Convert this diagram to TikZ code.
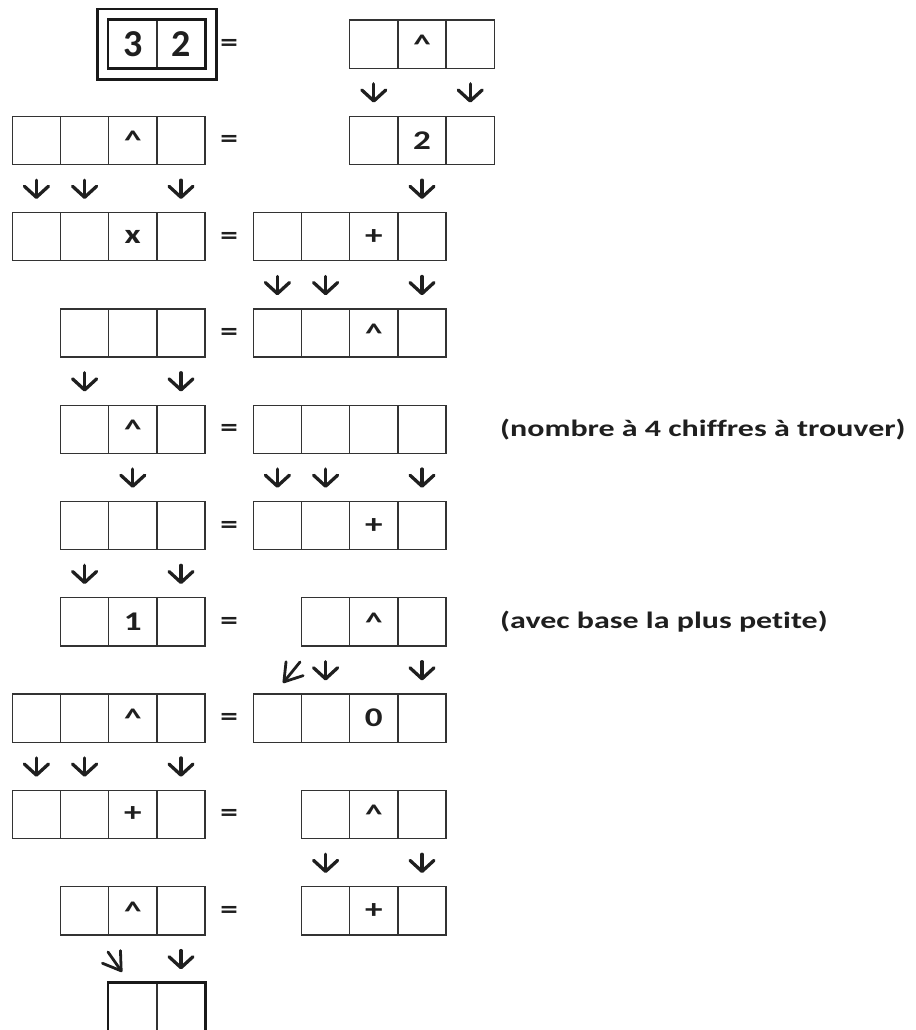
\documentclass[tikz,border=0pt]{standalone}
\usepackage{fontspec}
\setmainfont{Carlito}[Ligatures=CommonOff]
\newfontfamily\cellfont{Carlito}[FakeStretch=1.3, Ligatures=CommonOff]
\newfontfamily\notefont{Carlito}[FakeStretch=1.36, Ligatures=CommonOff]
\usetikzlibrary{arrows.meta,fit,calc}
\newcommand\pw{\raisebox{-0.2em}{\textasciicircum}}
\newcommand\cellrow[5][]{\foreach \lab [count=\n from 0] in {#5}{\node[cell,#1] (#2c\n) at ({12.3+48.2*(#4+\n+0.5)},{44.1+96.3*#3}) {\lab};}}
\begin{document}
\begin{tikzpicture}[x=1pt,y=-1pt,
  cell/.style={draw=black!80, line width=1.3pt, minimum width=48.2pt, minimum height=48.2pt, inner sep=0pt, font=\cellfont\fontsize{27}{27}\selectfont\bfseries, text=black!88},
  big/.style={font=\fontsize{38}{38}\selectfont\bfseries},
  eq/.style={inner sep=0pt, font=\cellfont\fontsize{27}{27}\selectfont\bfseries, text=black!88},
  note/.style={inner sep=0pt, anchor=west, font=\notefont\fontsize{23.5}{23.5}\selectfont\bfseries, text=black!88},
  frame/.style={draw=black!90, line width=2.8pt, inner sep=0pt},
  arr/.style={draw=black!88, line width=3.3pt, line cap=round, -{Straight Barb[length=11pt,width=24pt,round]}, shorten <=15pt, shorten >=13pt},
  darr/.style={draw=black!88, line width=2.8pt, line cap=round, -{Straight Barb[length=17pt,width=22pt,round]}}
]
\useasboundingbox (0,0) rectangle (915,1030);
\clip (0,0) rectangle (915,1030);
% row 0
\cellrow[big]{T}{0}{2}{3,2}
\node[frame, fit=(Tc0)(Tc1)] (Tin) {};
\node[frame, fit=(Tin), inner sep=9pt] (Tout) {};
\cellrow{R0}{0}{7}{{},\pw,{}}
% row 1
\cellrow{L1}{1}{0}{{},{},\pw,{}}
\cellrow{R1}{1}{7}{{},2,{}}
% row 2
\cellrow{L2}{2}{0}{{},{},x,{}}
\cellrow{R2}{2}{5}{{},{},+,{}}
% row 3
\cellrow{L3}{3}{1}{{},{},{}}
\cellrow{R3}{3}{5}{{},{},\pw,{}}
% row 4
\cellrow{L4}{4}{1}{{},\pw,{}}
\cellrow{R4}{4}{5}{{},{},{},{}}
\node[note] (N1) at (500,429.3) {(nombre à 4 chiffres à trouver)};
% row 5
\cellrow{L5}{5}{1}{{},{},{}}
\cellrow{R5}{5}{5}{{},{},+,{}}
% row 6
\cellrow{L6}{6}{1}{{},1,{}}
\cellrow{R6}{6}{6}{{},\pw,{}}
\node[note] (N2) at (500,621.9) {(avec base la plus petite)};
% row 7
\cellrow{L7}{7}{0}{{},{},\pw,{}}
\cellrow{R7}{7}{5}{{},{},0,{}}
% row 8
\cellrow{L8}{8}{0}{{},{},+,{}}
\cellrow{R8}{8}{6}{{},\pw,{}}
% row 9
\cellrow{L9}{9}{1}{{},\pw,{}}
\cellrow{R9}{9}{6}{{},+,{}}
% row 10
\cellrow{F}{10}{2}{{},{}}
\node[frame, fit=(Fc0)(Fc1)] (Fbox) {};
% equals
\foreach \i in {0,...,9}{\node[eq] (E\i) at (229.2,{45.5+96.3*\i}) {=};}
% arrows
\draw[arr] (R0c0) -- (R1c0);
\draw[arr] (R0c2) -- (R1c2);
\draw[arr] (L1c0) -- (L2c0);
\draw[arr] (L1c1) -- (L2c1);
\draw[arr] (L1c3) -- (L2c3);
\draw[arr] (R1c1) -- (R2c3);
\draw[arr] (R2c0) -- (R3c0);
\draw[arr] (R2c1) -- (R3c1);
\draw[arr] (R2c3) -- (R3c3);
\draw[arr] (L3c0) -- (L4c0);
\draw[arr] (L3c2) -- (L4c2);
\draw[arr] (L4c1) -- (L5c1);
\draw[arr] (R4c0) -- (R5c0);
\draw[arr] (R4c1) -- (R5c1);
\draw[arr] (R4c3) -- (R5c3);
\draw[arr] (L5c0) -- (L6c0);
\draw[arr] (L5c2) -- (L6c2);
\draw[arr] (R6c0) -- (R7c1);
\draw[arr] (R6c2) -- (R7c3);
\coordinate (D1a) at (300,662);
\coordinate (D1b) at (283,683);
\draw[darr] (D1a) -- (D1b);
\draw[arr] (L7c0) -- (L8c0);
\draw[arr] (L7c1) -- (L8c1);
\draw[arr] (L7c3) -- (L8c3);
\draw[arr] (R8c0) -- (R9c0);
\draw[arr] (R8c2) -- (R9c2);
\draw[arr] (L9c2) -- (Fc1);
\coordinate (D2a) at (108,952);
\coordinate (D2b) at (122,972);
\draw[darr] (D2a) -- (D2b);
\end{tikzpicture}
\end{document}
